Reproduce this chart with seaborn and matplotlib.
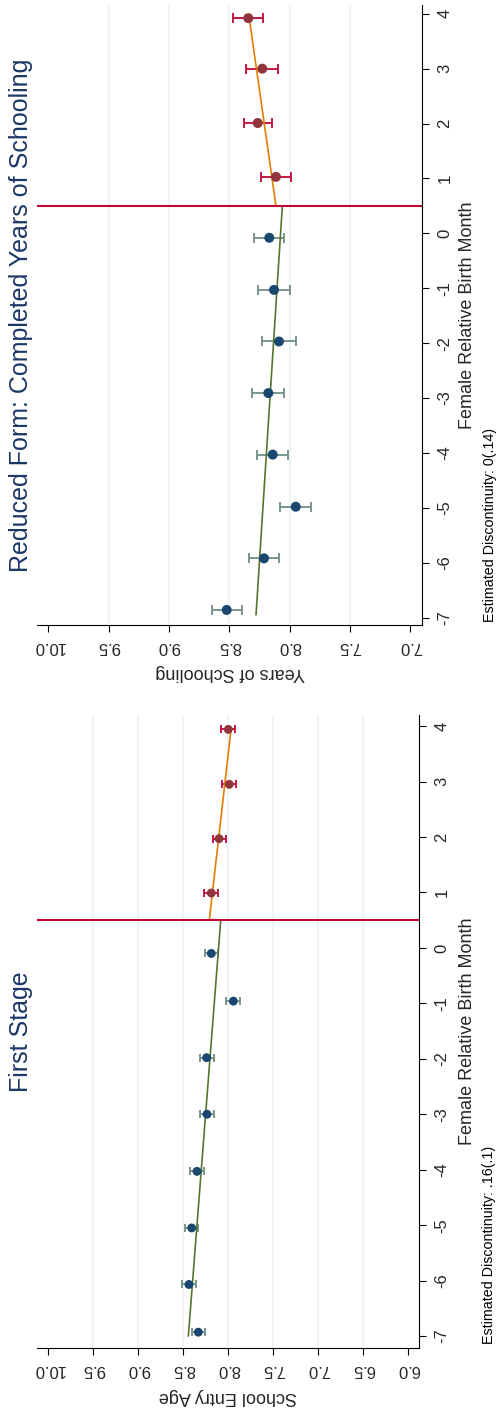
import numpy as np
import pandas as pd
import matplotlib
matplotlib.use("Agg")
import matplotlib.pyplot as plt
import seaborn as sns

# ---------------- data ----------------
months_ticks = list(range(-7, 5))

# First stage: school entry age by female relative birth month
fs_month = [-6.93, -6.07, -5.05, -4.03, -3.00, -1.98, -0.96, -0.10, 0.99, 1.97, 2.95, 3.94]
fs_age = [8.333, 8.437, 8.407, 8.348, 8.237, 8.241, 7.944, 8.189, 8.189, 8.103, 7.989, 8.000]
fs_ci = [0.074, 0.078, 0.074, 0.074, 0.081, 0.078, 0.078, 0.074, 0.076, 0.072, 0.080, 0.078]
fs_fit_left_x = [-7.0, 0.5]
fs_fit_left_y = [8.444, 8.084]
fs_fit_right_x = [0.5, 3.94]
fs_fit_right_y = [8.211, 7.970]
fs_ticks = [6.0, 6.5, 7.0, 7.5, 8.0, 8.5, 9.0, 9.5, 10.0]
fs_note = "Estimated Discontinuity: .16(.1)"

# Reduced form: completed years of schooling
rf_month = [-6.86, -5.92, -4.98, -4.03, -2.91, -1.97, -1.03, -0.08, 1.03, 2.01, 3.00, 3.92]
rf_years = [8.522, 8.213, 7.950, 8.141, 8.177, 8.089, 8.130, 8.169, 8.114, 8.265, 8.227, 8.343]
rf_ci = [0.125, 0.122, 0.127, 0.127, 0.133, 0.140, 0.130, 0.124, 0.124, 0.117, 0.131, 0.123]
rf_fit_left_x = [-6.95, 0.5]
rf_fit_left_y = [8.279, 8.061]
rf_fit_right_x = [0.5, 3.92]
rf_fit_right_y = [8.114, 8.335]
rf_ticks = [7.0, 7.5, 8.0, 8.5, 9.0, 9.5, 10.0]
rf_note = "Estimated Discontinuity: 0(.14)"

cutoff = 0.5

# ---------------- style ----------------
sns.set_theme(style="white")
plt.rcParams['font.family'] = ['Liberation Sans', 'DejaVu Sans']
plt.rcParams['axes.unicode_minus'] = False

NAVY = "#1a476f"
MAROON = "#90353b"
TEAL = "#6e8e84"
CRAN = "#c10534"
GREEN = "#55752f"
ORANGE = "#e37e00"
GRID = "#eaf2f3"
TITLE = "#1c3766"

W, H = 498, 1410
fig = plt.figure(figsize=(W / 100, H / 100), dpi=100)
fig.patch.set_facecolor("white")


def px_axes(x0, x1, ytop, ybot):
    return fig.add_axes([x0 / W, (H - ybot) / H, (x1 - x0) / W, (ybot - ytop) / H])


def panel(ax, month, val, ci, flx, fly, frx, fry, ticks, xlim, ylim,
          xlabel, ms, capsize, xlab_y, ylab_x):
    ax.set_facecolor("white")
    # gridlines (interior ticks only)
    for t in ticks[1:-1]:
        ax.axvline(t, color=GRID, lw=1.1, zorder=0)
    n_left = sum(1 for m in month if m < cutoff)
    # error bars
    ax.errorbar(val[:n_left], month[:n_left], xerr=ci[:n_left], fmt='none',
                ecolor=TEAL, elinewidth=1.3, capsize=capsize, capthick=1.3, zorder=2)
    ax.errorbar(val[n_left:], month[n_left:], xerr=ci[n_left:], fmt='none',
                ecolor=CRAN, elinewidth=1.3, capsize=capsize, capthick=1.3, zorder=2)
    # fit lines
    sns.lineplot(x=fly, y=flx, sort=False, estimator=None, color=GREEN, lw=1.2, ax=ax, zorder=3)
    sns.lineplot(x=fry, y=frx, sort=False, estimator=None, color=ORANGE, lw=1.2, ax=ax, zorder=3)
    # points
    df = pd.DataFrame({"month": month, "val": val,
                       "side": ["L" if m < cutoff else "R" for m in month]})
    sns.scatterplot(data=df, x="val", y="month", hue="side",
                    palette={"L": NAVY, "R": MAROON}, s=ms ** 2, linewidth=0,
                    legend=False, ax=ax, zorder=4)
    ax.axhline(cutoff, color=CRAN, lw=1.5, zorder=5)

    ax.set_xlim(*xlim)
    ax.set_ylim(*ylim)
    ax.set_xticks(ticks)
    ax.set_xticklabels([f"{t:.1f}" for t in ticks], rotation=180, fontsize=12)
    ax.set_yticks(months_ticks)
    ax.set_yticklabels([str(m) for m in months_ticks], rotation=90, fontsize=12, va="center")
    ax.yaxis.tick_right()
    ax.yaxis.set_label_position("right")
    ax.tick_params(axis="both", direction="out", length=5, width=0.8, color="black",
                   bottom=True, right=True, left=False, top=False)
    ax.tick_params(axis="x", pad=5)
    ax.tick_params(axis="y", pad=6)
    for s in ["top", "left"]:
        ax.spines[s].set_visible(False)
    for s in ["bottom", "right"]:
        ax.spines[s].set_visible(True)
        ax.spines[s].set_color("black")
        ax.spines[s].set_linewidth(0.8)
    ax.set_xlabel(xlabel, rotation=180, fontsize=13, va="center", ha="center")
    ax.xaxis.set_label_coords(0.5, xlab_y)
    ax.set_ylabel("Female Relative Birth Month", rotation=90, fontsize=13,
                  va="center", ha="center")
    ax.yaxis.set_label_coords(ylab_x, 0.5)


# bottom panel: First Stage
ax1 = px_axes(37.3, 419.3, 715, 1347.7)
panel(ax1, fs_month, fs_age, fs_ci, fs_fit_left_x, fs_fit_left_y,
      fs_fit_right_x, fs_fit_right_y, fs_ticks, (10.122, 5.878), (-7.21, 4.2),
      "School Entry Age", 6.4, 2.6, (1347.7 - 1397) / 632.7, (467 - 37.3) / 382)

# top panel: Reduced Form
ax2 = px_axes(37.3, 422, 5, 625.3)
panel(ax2, rf_month, rf_years, rf_ci, rf_fit_left_x, rf_fit_left_y,
      rf_fit_right_x, rf_fit_right_y, rf_ticks, (10.091, 6.904), (-7.14, 4.16),
      "Years of Schooling", 7.2, 3.6, (625.3 - 672) / 620.3, (467 - 37.3) / 384.7)

# titles
fig.text(21 / W, (H - (715 + 1347.7) / 2) / H, "First Stage", rotation=90,
         fontsize=18, color=TITLE, ha="center", va="center")
fig.text(21 / W, (H - (5 + 625.3) / 2) / H, "Reduced Form: Completed Years of Schooling",
         rotation=90, fontsize=18, color=TITLE, ha="center", va="center")

# notes
fig.text(489 / W, (H - 1344) / H, fs_note, rotation=90, fontsize=10.3,
         color="black", ha="center", va="bottom")
fig.text(490 / W, (H - 621.7) / H, rf_note, rotation=90, fontsize=10.3,
         color="black", ha="center", va="bottom")

fig.savefig("out.png", dpi=100, facecolor="white")
